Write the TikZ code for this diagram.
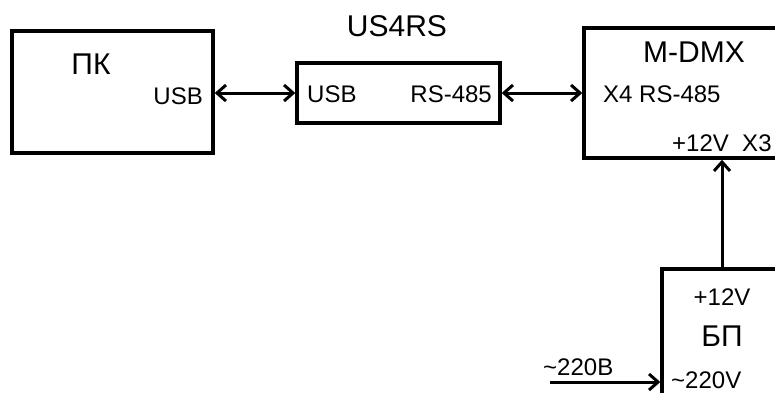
\documentclass[tikz,border=0pt]{standalone}
\usepackage{fontspec}
\setmainfont{Liberation Sans}
\usetikzlibrary{positioning,arrows.meta}

\begin{document}
\begin{tikzpicture}[
		x=1pt, y=-1pt,
		>={Straight Barb[length=9pt,width=16pt]},
		box/.style={
			draw,
			line width=3.4pt,
			inner sep=0pt
		},
		lbl/.style={inner sep=0pt, font=\fontsize{24}{28}\selectfont},
		big/.style={inner sep=0pt, font=\fontsize{30}{34}\selectfont},
		link/.style={line width=3pt}
		]
		
		\useasboundingbox (0,0) rectangle (775,392);
		\clip (0,0) rectangle (775,392);
		
		%--------------------------------------------------
		% Blocks
		%--------------------------------------------------
		
		\node[box, minimum width=201pt, minimum height=122pt] (pc) at (112.5,92) {};
		
		\node[box, minimum width=203pt, minimum height=60pt] (conv) at (398.5,93) {};
		
		\node[box, minimum width=230pt, minimum height=130pt] (dmx) at (699,93) {};
		
		\node[box, minimum width=120pt, minimum height=150pt] (psu) at (722,344) {};
		
		%--------------------------------------------------
		% Labels
		%--------------------------------------------------
		
		\node[big, anchor=base] (pcname) at (91,74) {ПК};
		\node[lbl, anchor=base east] (pcusb) at (203,104) {USB};
		
		\node[big, anchor=base] (convname) at (397,36) {US4RS};
		\node[lbl, anchor=base west] (convusb) at (307,102) {USB};
		\node[lbl, anchor=base east] (convrs) at (492,102) {RS-485};
		
		\node[big, anchor=base] (dmxname) at (694,62) {M-DMX};
		\node[lbl, anchor=base west] (dmxrs) at (603,102) {X4 RS-485};
		\node[lbl, anchor=base west] (dmxpwr) at (672,151) {+12V\ \ X3};
		
		\node[lbl, anchor=base] (psuout) at (722,305) {+12V};
		\node[big, anchor=base] (psuname) at (722,346) {БП};
		\node[lbl, anchor=base west] (psuin) at (671,388) {\textasciitilde220V};
		
		\coordinate (mains) at (550,382);
		\node[lbl, anchor=base west] (mainslbl) at (543,375) {\textasciitilde220В};
		
		%--------------------------------------------------
		% Connections
		%--------------------------------------------------
		
		\draw[<->,link] (pc.east |- conv.west) -- (conv.west);
		
		\draw[<->,link] (conv.east) -- (dmx.west);
		
		\draw[->,link] (psu.north) -- (psu.north |- dmx.south);
		
		\draw[->,link] (mains) -- (mains -| psu.west);
		
	\end{tikzpicture}
\end{document}
